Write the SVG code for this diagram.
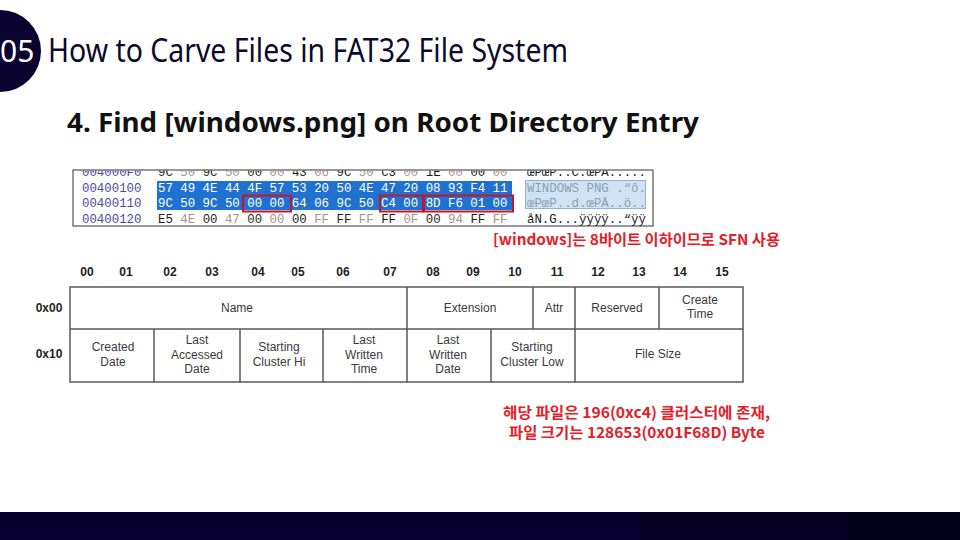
<svg xmlns="http://www.w3.org/2000/svg" width="960" height="540" viewBox="0 0 960 540">
<style>
.title{font-family:"Noto Sans","Noto Sans CJK KR",sans-serif;font-size:33px;fill:#0d0a2c;font-weight:400}
.sub{font-family:"Noto Sans","Noto Sans CJK KR",sans-serif;font-size:26px;font-weight:700;fill:#111}
.mono{font-family:"Liberation Mono","Courier New",monospace;font-size:12.4px}
.off{fill:#4b4aa3}
.dk{fill:#1e1e1e}
.gy{fill:#a89288}
.wh{fill:#ffffff}
.asc{fill:#8aa0b8}
.red{font-family:"Noto Sans CJK KR","Noto Sans",sans-serif;font-weight:700;fill:#e3202a;font-size:15px}
.hdr{font-family:"Liberation Sans",Arial,sans-serif;font-weight:700;font-size:12px;fill:#222;text-anchor:middle}
.cell{font-family:"Liberation Sans",Arial,sans-serif;font-size:12px;fill:#3a3a3a;text-anchor:middle}
.grid{stroke:#5a5a5a;stroke-width:1.5;fill:none}
.rbox{fill:none;stroke:#c8142a;stroke-width:2}
</style>
<defs>
<clipPath id="hexclip"><rect x="73" y="170.5" width="580" height="56"/></clipPath>
</defs>
<rect width="960" height="540" fill="#ffffff"/>

<g id="header">
<circle cx="0" cy="51" r="41" fill="#0a0330"/>
<text x="0" y="62" font-family="Noto Sans,sans-serif" font-size="30" fill="#ffffff">05</text>
<text class="title" x="48" y="62" textLength="520" lengthAdjust="spacingAndGlyphs">How to Carve Files in FAT32 File System</text>
</g>

<g id="subtitle">
<text class="sub" x="67" y="132" textLength="632" lengthAdjust="spacingAndGlyphs">4. Find [windows.png] on Root Directory Entry</text>
</g>

<g id="hexdump">
<rect x="73" y="170" width="580" height="56" fill="#ffffff" stroke="#333" stroke-width="1"/>
<g clip-path="url(#hexclip)">
<rect x="157" y="181" width="355" height="29" fill="#1f72cf"/>
<rect x="525.5" y="180.5" width="120" height="28" fill="#cfe2f4" stroke="#8fb4d8" stroke-width="1"/>
<text class="mono off" x="82" y="176">004000F0</text>
<text class="mono off" x="82" y="191.5">00400100</text>
<text class="mono off" x="82" y="207">00400110</text>
<text class="mono off" x="82" y="222.5">00400120</text>
<text class="mono" x="158" y="176" xml:space="preserve"><tspan class="dk">9C </tspan><tspan class="gy">50 </tspan><tspan class="dk">9C </tspan><tspan class="gy">50 </tspan><tspan class="dk">00 </tspan><tspan class="gy">00 </tspan><tspan class="dk">43 </tspan><tspan class="gy">06 </tspan><tspan class="dk">9C </tspan><tspan class="gy">50 </tspan><tspan class="dk">C3 </tspan><tspan class="gy">00 </tspan><tspan class="dk">1E </tspan><tspan class="gy">00 </tspan><tspan class="dk">00 </tspan><tspan class="gy">00</tspan></text>
<text class="mono wh" x="158" y="191.5" xml:space="preserve">57 49 4E 44 4F 57 53 20 50 4E 47 20 08 93 F4 11</text>
<text class="mono wh" x="158" y="207" xml:space="preserve">9C 50 9C 50 00 00 64 06 9C 50 C4 00 8D F6 01 00</text>
<text class="mono" x="158" y="222.5" xml:space="preserve"><tspan class="dk">E5 </tspan><tspan class="gy">4E </tspan><tspan class="dk">00 </tspan><tspan class="gy">47 </tspan><tspan class="dk">00 </tspan><tspan class="gy">00 </tspan><tspan class="dk">00 </tspan><tspan class="gy">FF </tspan><tspan class="dk">FF </tspan><tspan class="gy">FF </tspan><tspan class="dk">FF </tspan><tspan class="gy">0F </tspan><tspan class="dk">00 </tspan><tspan class="gy">94 </tspan><tspan class="dk">FF </tspan><tspan class="gy">FF</tspan></text>
<text class="mono dk" x="527" y="176" xml:space="preserve">œPœP..C.œPA.....</text>
<text class="mono asc" x="527" y="191.5" xml:space="preserve">WINDOWS PNG .“ô.</text>
<text class="mono asc" x="527" y="207" xml:space="preserve">œPœP..d.œPÄ..ö..</text>
<text class="mono dk" x="527" y="222.5" xml:space="preserve">åN.G...ÿÿÿÿ..“ÿÿ</text>
</g>
<rect class="rbox" x="243" y="195.5" width="48" height="16"/>
<rect class="rbox" x="380" y="195.5" width="43" height="16"/>
<rect class="rbox" x="424" y="195.5" width="89" height="16"/>
</g>

<g id="note1">
<text class="red" x="493" y="245" textLength="287" lengthAdjust="spacingAndGlyphs">[windows]는 8바이트 이하이므로 SFN 사용</text>
</g>

<g id="table">
<text class="hdr" y="276"><tspan x="87">00</tspan><tspan x="126">01</tspan><tspan x="170">02</tspan><tspan x="212">03</tspan><tspan x="258">04</tspan><tspan x="298">05</tspan><tspan x="343">06</tspan><tspan x="390">07</tspan><tspan x="433">08</tspan><tspan x="473">09</tspan><tspan x="515">10</tspan><tspan x="557">11</tspan><tspan x="598">12</tspan><tspan x="639">13</tspan><tspan x="680">14</tspan><tspan x="722">15</tspan></text>
<text class="hdr" x="49" y="312">0x00</text>
<text class="hdr" x="49" y="358">0x10</text>
<rect class="grid" x="70" y="287" width="673" height="95"/>
<path class="grid" d="M70 329H743M407 287V382M533 287V329M575 287V382M659 287V329M154 329V382M240 329V382M323 329V382M491 329V382"/>
<text class="cell" x="237" y="312">Name</text>
<text class="cell" x="470" y="312">Extension</text>
<text class="cell" x="554" y="312">Attr</text>
<text class="cell" x="617" y="312">Reserved</text>
<text class="cell" x="700" y="304">Create</text>
<text class="cell" x="700" y="318">Time</text>
<text class="cell" x="113" y="351">Created</text>
<text class="cell" x="113" y="366">Date</text>
<text class="cell" x="197" y="344">Last</text>
<text class="cell" x="197" y="358.5">Accessed</text>
<text class="cell" x="197" y="373">Date</text>
<text class="cell" x="279" y="351">Starting</text>
<text class="cell" x="279" y="366">Cluster Hi</text>
<text class="cell" x="364" y="344">Last</text>
<text class="cell" x="364" y="358.5">Written</text>
<text class="cell" x="364" y="373">Time</text>
<text class="cell" x="448" y="344">Last</text>
<text class="cell" x="448" y="358.5">Written</text>
<text class="cell" x="448" y="373">Date</text>
<text class="cell" x="532" y="351">Starting</text>
<text class="cell" x="532" y="366">Cluster Low</text>
<text class="cell" x="658" y="358">File Size</text>
</g>

<g id="note2">
<text class="red" x="503" y="418" textLength="267" lengthAdjust="spacingAndGlyphs">해당 파일은 196(0xc4) 클러스터에 존재,</text>
<text class="red" x="509" y="438" textLength="256" lengthAdjust="spacingAndGlyphs">파일 크기는 128653(0x01F68D) Byte</text>
</g>

<g id="footer">
<rect x="0" y="512" width="960" height="28" fill="#07002e"/>
<rect x="640" y="512" width="320" height="28" fill="#050022"/>
<rect x="848" y="512" width="112" height="28" fill="#03001a"/>
</g>
</svg>
